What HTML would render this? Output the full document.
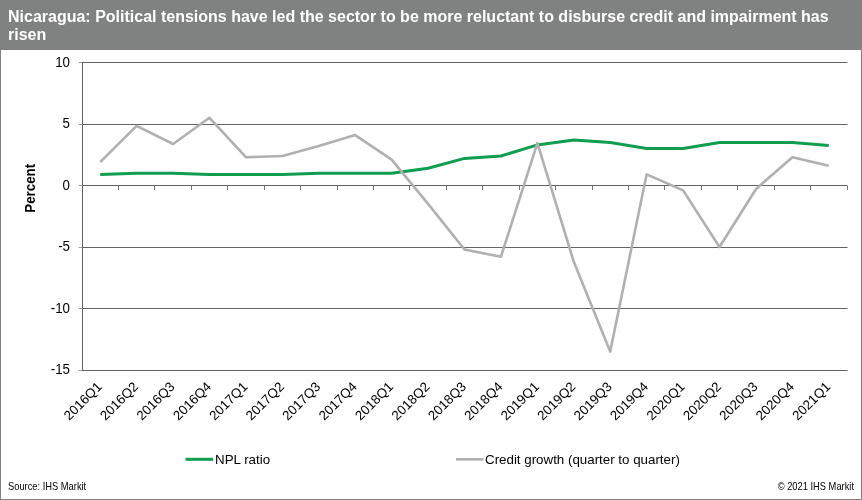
<!DOCTYPE html>
<html><head><meta charset="utf-8"><title>Nicaragua chart</title>
<style>
html,body{margin:0;padding:0;background:#fff;}
body{width:862px;height:500px;overflow:hidden;font-family:"Liberation Sans",Arial,sans-serif;}
svg{display:block}
text{font-family:"Liberation Sans",Arial,sans-serif;fill:#000;}
.ax{font-size:13.33px;}
.t{font-size:16px;font-weight:bold;fill:#fff;}
.s{font-size:9.33px;}
</style></head><body>
<svg width="862" height="500" viewBox="0 0 862 500">
<rect x="0" y="0" width="862" height="500" fill="#fff"/>
<rect x="0" y="0" width="862" height="50" fill="#808281"/>
<rect x="0" y="50" width="1" height="450" fill="#808080"/>
<rect x="861" y="50" width="1" height="450" fill="#808080"/>
<rect x="0" y="499" width="862" height="1" fill="#808080"/>
<text x="8" y="22.4" class="t">Nicaragua: Political tensions have led the sector to be more reluctant to disburse credit and impairment has</text>
<text x="8" y="39.8" class="t">risen</text>
<line x1="78.5" y1="62.5" x2="82" y2="62.5" stroke="#a0a0a0" stroke-width="1"/>
<line x1="82" y1="62.5" x2="847.5" y2="62.5" stroke="#636363" stroke-width="1"/>
<text transform="translate(70,66.9) scale(1,1.05)" text-anchor="end" class="ax">10</text>
<line x1="78.5" y1="124.5" x2="82" y2="124.5" stroke="#a0a0a0" stroke-width="1"/>
<line x1="82" y1="124.5" x2="847.5" y2="124.5" stroke="#636363" stroke-width="1"/>
<text transform="translate(70,127.9) scale(1,1.05)" text-anchor="end" class="ax">5</text>
<line x1="78.5" y1="185.5" x2="82" y2="185.5" stroke="#a0a0a0" stroke-width="1"/>
<line x1="82" y1="185.5" x2="847.5" y2="185.5" stroke="#636363" stroke-width="1"/>
<text transform="translate(70,189.9) scale(1,1.05)" text-anchor="end" class="ax">0</text>
<line x1="78.5" y1="247.5" x2="82" y2="247.5" stroke="#a0a0a0" stroke-width="1"/>
<line x1="82" y1="247.5" x2="847.5" y2="247.5" stroke="#636363" stroke-width="1"/>
<text transform="translate(70,250.9) scale(1,1.05)" text-anchor="end" class="ax">-5</text>
<line x1="78.5" y1="308.5" x2="82" y2="308.5" stroke="#a0a0a0" stroke-width="1"/>
<line x1="82" y1="308.5" x2="847.5" y2="308.5" stroke="#636363" stroke-width="1"/>
<text transform="translate(70,312.9) scale(1,1.05)" text-anchor="end" class="ax">-10</text>
<line x1="78.5" y1="370.5" x2="82" y2="370.5" stroke="#a0a0a0" stroke-width="1"/>
<line x1="82" y1="370.5" x2="847.5" y2="370.5" stroke="#636363" stroke-width="1"/>
<text transform="translate(70,373.9) scale(1,1.05)" text-anchor="end" class="ax">-15</text>

<line x1="82.5" y1="62" x2="82.5" y2="371" stroke="#636363" stroke-width="1"/>
<line x1="118.5" y1="186" x2="118.5" y2="190" stroke="#707070" stroke-width="1"/>
<line x1="154.5" y1="186" x2="154.5" y2="190" stroke="#707070" stroke-width="1"/>
<line x1="191.5" y1="186" x2="191.5" y2="190" stroke="#707070" stroke-width="1"/>
<line x1="227.5" y1="186" x2="227.5" y2="190" stroke="#707070" stroke-width="1"/>
<line x1="264.5" y1="186" x2="264.5" y2="190" stroke="#707070" stroke-width="1"/>
<line x1="300.5" y1="186" x2="300.5" y2="190" stroke="#707070" stroke-width="1"/>
<line x1="337.5" y1="186" x2="337.5" y2="190" stroke="#707070" stroke-width="1"/>
<line x1="373.5" y1="186" x2="373.5" y2="190" stroke="#707070" stroke-width="1"/>
<line x1="409.5" y1="186" x2="409.5" y2="190" stroke="#707070" stroke-width="1"/>
<line x1="446.5" y1="186" x2="446.5" y2="190" stroke="#707070" stroke-width="1"/>
<line x1="482.5" y1="186" x2="482.5" y2="190" stroke="#707070" stroke-width="1"/>
<line x1="519.5" y1="186" x2="519.5" y2="190" stroke="#707070" stroke-width="1"/>
<line x1="555.5" y1="186" x2="555.5" y2="190" stroke="#707070" stroke-width="1"/>
<line x1="592.5" y1="186" x2="592.5" y2="190" stroke="#707070" stroke-width="1"/>
<line x1="628.5" y1="186" x2="628.5" y2="190" stroke="#707070" stroke-width="1"/>
<line x1="664.5" y1="186" x2="664.5" y2="190" stroke="#707070" stroke-width="1"/>
<line x1="701.5" y1="186" x2="701.5" y2="190" stroke="#707070" stroke-width="1"/>
<line x1="737.5" y1="186" x2="737.5" y2="190" stroke="#707070" stroke-width="1"/>
<line x1="774.5" y1="186" x2="774.5" y2="190" stroke="#707070" stroke-width="1"/>
<line x1="810.5" y1="186" x2="810.5" y2="190" stroke="#707070" stroke-width="1"/>
<line x1="847.5" y1="186" x2="847.5" y2="190" stroke="#707070" stroke-width="1"/>

<polyline points="100.2,174.4 136.6,173.2 173.1,173.2 209.5,174.4 245.9,174.4 282.4,174.4 318.8,173.2 355.2,173.2 391.6,173.2 428.1,168.3 464.5,158.4 500.9,156.0 537.4,144.9 573.8,140.0 610.2,142.4 646.6,148.6 683.1,148.6 719.5,142.4 755.9,142.4 792.4,142.4 828.8,145.5" fill="none" stroke="#0f9d4f" stroke-width="3" stroke-linejoin="round" stroke-linecap="butt"/>
<polyline points="100.2,162.1 136.6,125.8 173.1,144.0 209.5,117.8 245.9,157.2 282.4,156.0 318.8,146.1 355.2,135.1 391.6,159.7 428.1,203.9 464.5,249.5 500.9,256.8 537.4,143.1 573.8,261.8 610.2,351.6 646.6,174.4 683.1,190.4 719.5,247.0 755.9,189.2 792.4,157.2 828.8,165.8" fill="none" stroke="#b0b0b0" stroke-width="2.6" stroke-linejoin="round" stroke-linecap="butt"/>
<text transform="translate(102.7,387.5) rotate(-45)" text-anchor="end" class="ax">2016Q1</text>
<text transform="translate(139.1,387.5) rotate(-45)" text-anchor="end" class="ax">2016Q2</text>
<text transform="translate(175.6,387.5) rotate(-45)" text-anchor="end" class="ax">2016Q3</text>
<text transform="translate(212.0,387.5) rotate(-45)" text-anchor="end" class="ax">2016Q4</text>
<text transform="translate(248.4,387.5) rotate(-45)" text-anchor="end" class="ax">2017Q1</text>
<text transform="translate(284.9,387.5) rotate(-45)" text-anchor="end" class="ax">2017Q2</text>
<text transform="translate(321.3,387.5) rotate(-45)" text-anchor="end" class="ax">2017Q3</text>
<text transform="translate(357.7,387.5) rotate(-45)" text-anchor="end" class="ax">2017Q4</text>
<text transform="translate(394.1,387.5) rotate(-45)" text-anchor="end" class="ax">2018Q1</text>
<text transform="translate(430.6,387.5) rotate(-45)" text-anchor="end" class="ax">2018Q2</text>
<text transform="translate(467.0,387.5) rotate(-45)" text-anchor="end" class="ax">2018Q3</text>
<text transform="translate(503.4,387.5) rotate(-45)" text-anchor="end" class="ax">2018Q4</text>
<text transform="translate(539.9,387.5) rotate(-45)" text-anchor="end" class="ax">2019Q1</text>
<text transform="translate(576.3,387.5) rotate(-45)" text-anchor="end" class="ax">2019Q2</text>
<text transform="translate(612.7,387.5) rotate(-45)" text-anchor="end" class="ax">2019Q3</text>
<text transform="translate(649.1,387.5) rotate(-45)" text-anchor="end" class="ax">2019Q4</text>
<text transform="translate(685.6,387.5) rotate(-45)" text-anchor="end" class="ax">2020Q1</text>
<text transform="translate(722.0,387.5) rotate(-45)" text-anchor="end" class="ax">2020Q2</text>
<text transform="translate(758.4,387.5) rotate(-45)" text-anchor="end" class="ax">2020Q3</text>
<text transform="translate(794.9,387.5) rotate(-45)" text-anchor="end" class="ax">2020Q4</text>
<text transform="translate(831.3,387.5) rotate(-45)" text-anchor="end" class="ax">2021Q1</text>

<text transform="translate(34.6,188.3) rotate(-90) scale(1,1.12)" text-anchor="middle" class="ax" style="font-weight:bold">Percent</text>
<line x1="185.5" y1="459.3" x2="213.2" y2="459.3" stroke="#0f9d4f" stroke-width="3"/>
<text x="215" y="464" class="ax">NPL ratio</text>
<line x1="456" y1="459.3" x2="483.5" y2="459.3" stroke="#b0b0b0" stroke-width="2.6"/>
<text x="485" y="464" class="ax">Credit growth (quarter to quarter)</text>
<text transform="translate(8,490.1) scale(1,1.1)" class="s">Source: IHS Markit</text>
<text transform="translate(854,490.1) scale(1,1.1)" text-anchor="end" class="s">© 2021 IHS Markit</text>
</svg>
</body></html>
